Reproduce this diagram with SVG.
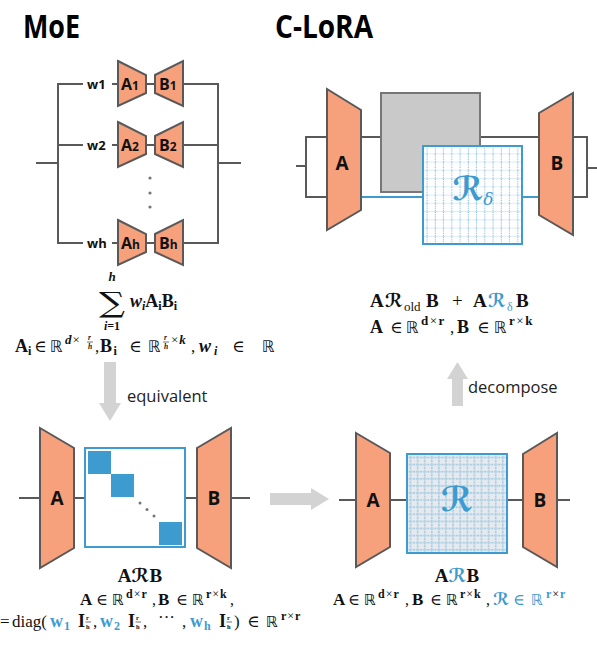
<svg xmlns="http://www.w3.org/2000/svg" width="597" height="650" viewBox="0 0 597 650">
<defs>
<style>
.tr{fill:#f6a07c;stroke:#595959;stroke-width:2;stroke-linejoin:miter}
.ln{fill:none;stroke:#595959;stroke-width:2}
.bl{fill:none;stroke:#3d9bd0;stroke-width:2}
.arr{fill:#d3d3d3;stroke:none}
.title{font-family:"Open Sans","Noto Sans",sans-serif;font-weight:700;font-size:32px;fill:#000}
.lab{font-family:"Open Sans","Noto Sans",sans-serif;font-weight:700;fill:#111}
.word{font-family:"Open Sans","Noto Sans",sans-serif;font-size:16.5px;fill:#222}
.m{font-family:"Liberation Serif","DejaVu Serif",serif;font-weight:400;font-style:normal;fill:#111}
.mb{font-family:"Liberation Serif","DejaVu Serif",serif;font-weight:700;font-style:normal;fill:#111}
.mbi{font-family:"Liberation Serif","DejaVu Serif",serif;font-weight:700;font-style:italic;fill:#111}
.ds{font-family:"DejaVu Sans",sans-serif;font-weight:400;font-style:normal;fill:#111}
.cal{font-family:"DejaVu Serif","DejaVu Sans",serif;font-style:italic;font-weight:700;fill:#111}
.fb{stroke:#111;stroke-width:0.6}
.blue{fill:#3d9bd0}
</style>
<pattern id="gridD" patternUnits="userSpaceOnUse" x="423" y="146" width="8.25" height="8.25">
<line x1="0" y1="8" x2="8.25" y2="8" stroke="#c4dcec" stroke-width="0.7"/>
<line x1="4" y1="0" x2="4" y2="8.25" stroke="#3d9bd0" stroke-width="0.8" stroke-dasharray="1 1.2"/>
</pattern>
<pattern id="gridR" patternUnits="userSpaceOnUse" x="407" y="454" width="7.1" height="7.1">
<rect width="7.1" height="7.1" fill="#e6eaee"/>
<line x1="0" y1="3.5" x2="7.1" y2="3.5" stroke="#3d9bd0" stroke-width="0.7" stroke-dasharray="1 1"/>
<line x1="3.5" y1="0" x2="3.5" y2="7.1" stroke="#3d9bd0" stroke-width="0.7" stroke-dasharray="1 1"/>
</pattern>
</defs>
<rect width="597" height="650" fill="#fff"/>

<text class="title" x="23" y="38" textLength="57" lengthAdjust="spacingAndGlyphs">MoE</text>
<text class="title" x="275" y="38" textLength="98" lengthAdjust="spacingAndGlyphs">C-LoRA</text>

<g id="connectors">
<polyline class="ln" points="36,163 58,163"/>
<polyline class="ln" points="83,84 58,84 58,243 83,243"/>
<line class="ln" x1="58" y1="145" x2="83" y2="145"/>
<line class="ln" x1="112" y1="84" x2="118" y2="84"/>
<line class="ln" x1="112" y1="145" x2="118" y2="145"/>
<line class="ln" x1="112" y1="243" x2="118" y2="243"/>
<line class="ln" x1="146" y1="84" x2="155" y2="84"/>
<line class="ln" x1="146" y1="145" x2="155" y2="145"/>
<line class="ln" x1="146" y1="243" x2="155" y2="243"/>
<polyline class="ln" points="183,84 218,84 218,243 183,243"/>
<line class="ln" x1="183" y1="145" x2="218" y2="145"/>
<line class="ln" x1="218" y1="163" x2="241" y2="163"/>
<line class="ln" x1="296" y1="166" x2="306" y2="166"/>
<polyline class="ln" points="327,137 306,137 306,197 327,197"/>
<line class="ln" x1="361" y1="137" x2="381" y2="137"/>
<line class="ln" x1="480" y1="137" x2="539" y2="137"/>
<line class="bl" x1="361" y1="197" x2="423" y2="197"/>
<line class="bl" x1="522" y1="197" x2="539" y2="197"/>
<polyline class="ln" points="573,137 587,137 587,197 573,197"/>
<line class="ln" x1="587" y1="168" x2="597" y2="168"/>
<line class="ln" x1="19" y1="498" x2="40" y2="498"/>
<line class="ln" x1="74" y1="498" x2="85" y2="498"/>
<line class="ln" x1="185" y1="498" x2="197" y2="498"/>
<line class="ln" x1="231" y1="498" x2="250" y2="498"/>
<line class="ln" x1="339" y1="500" x2="356" y2="500"/>
<line class="ln" x1="390" y1="500" x2="407" y2="500"/>
<line class="ln" x1="507" y1="500" x2="523" y2="500"/>
<line class="ln" x1="557" y1="500" x2="570" y2="500"/>
<path class="arr" d="M104,362 H116 V403 H121 L110,421 L99,403 H104 Z"/>
<path class="arr" d="M270,493 H311 V488 L329,499 L311,510 V505 H270 Z"/>
<path class="arr" d="M452,406 V379 H447 L457.5,362 L468,379 H463 V406 Z"/>
</g>

<g id="w1"><text class="lab" x="87" y="89" font-size="13">w1</text></g>
<g id="w2"><text class="lab" x="87" y="150" font-size="13">w2</text></g>
<g id="wh"><text class="lab" x="87" y="248" font-size="13">wh</text></g>
<g id="A1"><path class="tr" d="M118,61 L146,75 L146,93 L118,106 Z"/><text class="lab" x="121" y="90" font-size="16">A<tspan font-size="12">1</tspan></text></g>
<g id="B1"><path class="tr" d="M155,75 L183,61 L183,106 L155,93 Z"/><text class="lab" x="159" y="90" font-size="16">B<tspan font-size="12">1</tspan></text></g>
<g id="A2"><path class="tr" d="M118,122 L146,136 L146,154 L118,167 Z"/><text class="lab" x="121" y="151" font-size="16">A<tspan font-size="12">2</tspan></text></g>
<g id="B2"><path class="tr" d="M155,136 L183,122 L183,167 L155,154 Z"/><text class="lab" x="159" y="151" font-size="16">B<tspan font-size="12">2</tspan></text></g>
<g id="vdots" fill="#777"><circle cx="150" cy="178" r="1.6"/><circle cx="150" cy="193" r="1.6"/><circle cx="150" cy="207" r="1.6"/></g>
<g id="Ah"><path class="tr" d="M118,220 L146,234 L146,252 L118,265 Z"/><text class="lab" x="121" y="249" font-size="16">A<tspan font-size="12">h</tspan></text></g>
<g id="Bh"><path class="tr" d="M155,234 L183,220 L183,265 L155,252 Z"/><text class="lab" x="159" y="249" font-size="16">B<tspan font-size="12">h</tspan></text></g>

<g id="moe-formula">
<text transform="translate(112,312) scale(1.3,1)" x="0" y="0" font-size="28" text-anchor="middle" style="font-family:'DejaVu Serif',serif;fill:#111">∑</text>
<text class="mbi" x="112" y="281" font-size="13" text-anchor="middle">h</text>
<text class="mbi" x="112" y="330" font-size="12" text-anchor="middle">i<tspan class="mb">=1</tspan></text>
<text class="mbi" x="130" y="307" font-size="18">w<tspan font-size="12" dy="3">i</tspan><tspan class="mb" dy="-3">A</tspan><tspan class="mb" font-size="12" dy="3">i</tspan><tspan class="mb" dy="-3">B</tspan><tspan class="mb" font-size="12" dy="3">i</tspan></text>
<text class="mb" x="15" y="352" font-size="18">A</text>
<text class="mb" x="28" y="355" font-size="12">i</text>
<text class="m" x="34" y="352" font-size="17">∈</text>
<text class="ds" x="50" y="352" font-size="16">ℝ</text>
<text class="mbi" x="65" y="344" font-size="13">d<tspan class="m" dx="1">×</tspan></text>
<text class="mbi" x="88" y="339.5" font-size="7.5">r</text>
<line class="fb" x1="87" y1="342" x2="93" y2="342"/>
<text class="mbi" x="88" y="348.5" font-size="7.5">h</text>
<text class="m" x="95" y="352" font-size="17">,</text>
<text class="mb" x="100" y="352" font-size="18">B</text>
<text class="mb" x="113.5" y="355" font-size="12">i</text>
<text class="m" x="129" y="352" font-size="17">∈</text>
<text class="ds" x="148" y="352" font-size="16">ℝ</text>
<text class="mbi" x="164" y="339.5" font-size="7.5">r</text>
<line class="fb" x1="163" y1="342" x2="169" y2="342"/>
<text class="mbi" x="164" y="348.5" font-size="7.5">h</text>
<text class="m" x="171" y="344" font-size="13">×<tspan class="mbi" dx="1">k</tspan></text>
<text class="m" x="191" y="352" font-size="17">,</text>
<text class="mbi" x="199" y="352" font-size="18">w</text>
<text class="mbi" x="214" y="355" font-size="12">i</text>
<text class="m" x="232" y="352" font-size="17">∈</text>
<text class="ds" x="262" y="352" font-size="16">ℝ</text>
</g>
<text class="word" x="127" y="402">equivalent</text>
<text class="word" x="468" y="393" font-size="17">decompose</text>

<g id="topA"><path class="tr" d="M327,89 L361,110 L361,210 L327,230 Z"/><text class="lab" x="342" y="170" font-size="19" text-anchor="middle">A</text></g>
<g id="Rold"><rect x="381" y="93" width="99" height="99" fill="#c9c9c9" stroke="#777" stroke-width="2"/></g>
<g id="Rdelta"><rect x="423" y="146" width="99" height="98" fill="#fff"/><rect x="423" y="146" width="99" height="98" fill="url(#gridD)" stroke="#3d9bd0" stroke-width="2"/>
<text class="cal blue" x="473" y="200" font-size="33" text-anchor="middle">ℛ<tspan font-size="17" dy="5" font-weight="400">δ</tspan></text></g>
<g id="topB"><path class="tr" d="M539,113 L573,93 L573,235 L539,215 Z"/><text class="lab" x="557" y="170" font-size="19" text-anchor="middle">B</text></g>

<g id="clora-formula">
<text class="mb" x="370" y="307" font-size="19">A</text>
<text class="cal" x="385" y="307" font-size="19">ℛ</text>
<text class="m" x="404" y="311" font-size="13">old</text>
<text class="mb" x="426" y="307" font-size="19">B</text>
<text class="m" x="452" y="307" font-size="19">+</text>
<text class="mb" x="473" y="307" font-size="19">A</text>
<text class="cal blue" x="488" y="307" font-size="19">ℛ</text>
<text class="m blue" x="507" y="311" font-size="12" font-style="italic">δ</text>
<text class="mb" x="516" y="307" font-size="19">B</text>

<text class="mb" x="370" y="333" font-size="18">A</text>
<text class="m" x="390" y="333" font-size="17">∈</text>
<text class="ds" x="406" y="333" font-size="16">ℝ</text>
<text class="mb" x="421" y="325" font-size="13">d<tspan class="m" dx="1.5">×</tspan><tspan dx="1.5">r</tspan></text>
<text class="m" x="450" y="333" font-size="17">,</text>
<text class="mb" x="457" y="333" font-size="18">B</text>
<text class="m" x="477" y="333" font-size="17">∈</text>
<text class="ds" x="494" y="333" font-size="16">ℝ</text>
<text class="mb" x="509" y="325" font-size="13">r<tspan class="m" dx="1.5">×</tspan><tspan dx="1.5">k</tspan></text>
</g>

<g id="botA1"><path class="tr" d="M40,428 L74,448 L74,548 L40,568 Z"/><text class="lab" x="57" y="505" font-size="19" text-anchor="middle">A</text></g>
<g id="Rdiag"><rect x="85" y="448" width="100" height="99" fill="#fff" stroke="#3d9bd0" stroke-width="2"/>
<rect x="88" y="451" width="23" height="23" fill="#3d9bd0"/>
<rect x="111" y="474" width="23" height="23" fill="#3d9bd0"/>
<rect x="159" y="522" width="23" height="23" fill="#3d9bd0"/>
<g fill="#777"><circle cx="140" cy="503" r="1.5"/><circle cx="147" cy="509.5" r="1.5"/><circle cx="154" cy="516" r="1.5"/></g></g>
<g id="botB1"><path class="tr" d="M197,448 L231,428 L231,568 L197,548 Z"/><text class="lab" x="214" y="505" font-size="19" text-anchor="middle">B</text></g>

<g id="bl-formula">
<text x="140" y="582" font-size="19" text-anchor="middle"><tspan class="mb">A</tspan><tspan class="cal">ℛ</tspan><tspan class="mb">B</tspan></text>
<text class="mb" x="80" y="605" font-size="17">A</text>
<text class="m" x="96" y="605" font-size="16">∈</text>
<text class="ds" x="112" y="605" font-size="15">ℝ</text>
<text class="mb" x="126" y="598" font-size="12">d<tspan class="m" dx="1">×</tspan><tspan dx="1">r</tspan></text>
<text class="m" x="152" y="605" font-size="16">,</text>
<text class="mb" x="158" y="605" font-size="17">B</text>
<text class="m" x="176" y="605" font-size="16">∈</text>
<text class="ds" x="192" y="605" font-size="15">ℝ</text>
<text class="mb" x="206" y="598" font-size="12">r<tspan class="m" dx="1">×</tspan><tspan dx="1">k</tspan></text>
<text class="m" x="230" y="605" font-size="16">,</text>

<text class="m" x="0" y="627" font-size="17">=</text>
<text class="m" x="12" y="627" font-size="17">diag(</text>
<text class="mb blue" x="50" y="627" font-size="18">w</text>
<text class="mb blue" x="64" y="630" font-size="12">1</text>
<text class="mb" x="78" y="627" font-size="18">I</text>
<text class="mb" x="86" y="620" font-size="6.5">r</text>
<line class="fb" x1="85.5" y1="622" x2="91" y2="622" stroke-width="0.5"/>
<text class="mb" x="86" y="628.5" font-size="6.5">h</text>
<text class="m" x="93" y="627" font-size="17">,</text>
<text class="mb blue" x="100" y="627" font-size="18">w</text>
<text class="mb blue" x="114" y="630" font-size="12">2</text>
<text class="mb" x="128" y="627" font-size="18">I</text>
<text class="mb" x="136" y="620" font-size="6.5">r</text>
<line class="fb" x1="135.5" y1="622" x2="141" y2="622" stroke-width="0.5"/>
<text class="mb" x="136" y="628.5" font-size="6.5">h</text>
<text class="m" x="143" y="627" font-size="17">,</text>
<text class="m" x="158" y="623" font-size="17">···</text>
<text class="m" x="182" y="627" font-size="17">,</text>
<text class="mb blue" x="190" y="627" font-size="18">w</text>
<text class="mb blue" x="204" y="630" font-size="12">h</text>
<text class="mb" x="219" y="627" font-size="18">I</text>
<text class="mb" x="227" y="620" font-size="6.5">r</text>
<line class="fb" x1="226.5" y1="622" x2="232" y2="622" stroke-width="0.5"/>
<text class="mb" x="227" y="628.5" font-size="6.5">h</text>
<text class="m" x="234" y="627" font-size="17">)</text>
<text class="m" x="247" y="627" font-size="17">∈</text>
<text class="ds" x="266" y="627" font-size="15">ℝ</text>
<text class="mb" x="281" y="620" font-size="12">r<tspan class="m" dx="1">×</tspan><tspan dx="1">r</tspan></text>
</g>

<g id="botA2"><path class="tr" d="M356,433 L390,453 L390,547 L356,567 Z"/><text class="lab" x="373" y="507" font-size="19" text-anchor="middle">A</text></g>
<g id="Rfull"><rect x="407" y="454" width="100" height="99" fill="url(#gridR)" stroke="#3d9bd0" stroke-width="2"/>
<text class="cal blue" x="457" y="511" font-size="34" text-anchor="middle">ℛ</text></g>
<g id="botB2"><path class="tr" d="M523,454 L557,433 L557,567 L523,547 Z"/><text class="lab" x="540" y="507" font-size="19" text-anchor="middle">B</text></g>

<g id="br-formula">
<text x="457" y="582" font-size="19" text-anchor="middle"><tspan class="mb">A</tspan><tspan class="cal blue">ℛ</tspan><tspan class="mb">B</tspan></text>
<text class="mb" x="333" y="605" font-size="17">A</text>
<text class="m" x="348" y="605" font-size="16">∈</text>
<text class="ds" x="364" y="605" font-size="15">ℝ</text>
<text class="mb" x="378" y="598" font-size="12">d<tspan class="m" dx="1">×</tspan><tspan dx="1">r</tspan></text>
<text class="m" x="405" y="605" font-size="16">,</text>
<text class="mb" x="412" y="605" font-size="17">B</text>
<text class="m" x="430" y="605" font-size="16">∈</text>
<text class="ds" x="446" y="605" font-size="15">ℝ</text>
<text class="mb" x="460" y="598" font-size="12">r<tspan class="m" dx="1">×</tspan><tspan dx="1">k</tspan></text>
<text class="m" x="486" y="605" font-size="16">,</text>
<text class="cal blue" x="493" y="605" font-size="17">ℛ</text>
<text class="m blue" x="513" y="605" font-size="16">∈</text>
<text class="ds blue" x="531" y="605" font-size="15">ℝ</text>
<text class="mb blue" x="546" y="598" font-size="12">r<tspan class="m" dx="1">×</tspan><tspan dx="1">r</tspan></text>
</g>
</svg>
